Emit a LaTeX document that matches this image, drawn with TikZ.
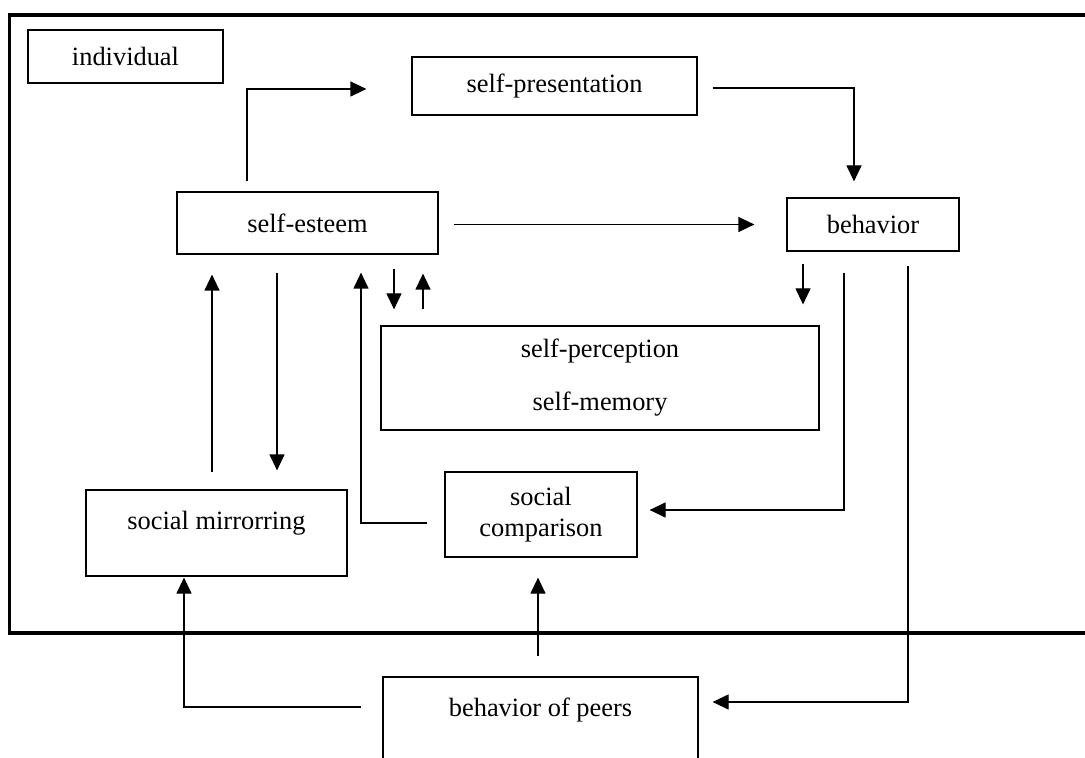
\documentclass[tikz,border=0pt]{standalone}
\usepackage{fontspec}
\setmainfont{Liberation Serif}
\usetikzlibrary{arrows.meta}
\begin{document}
\begin{tikzpicture}[x=0.5pt,y=-0.5pt,
  box/.style={draw, line width=0.6pt, inner sep=0pt, align=center,
    font=\fontsize{13.2pt}{15.5pt}\selectfont},
  arr/.style={line width=0.6pt, -{Triangle[length=8pt,width=7.5pt]}},
  frame/.style={line width=1.65pt}]
\clip (0,0) rectangle (1085,758);
\fill[white] (0,0) rectangle (1085,758);
% individual frame
\draw[frame] (1095,15) -- (9.5,15) -- (9.5,633) -- (1095,633);
% boxes
\node[box, minimum width=97.5pt, minimum height=26.5pt] (ind) at (125.5,56.5) {individual};
\node[box, minimum width=142.5pt, minimum height=29pt] (pres) at (554.5,86) {self-presentation};
\node[box, minimum width=130.5pt, minimum height=31pt] (se) at (307.5,223) {self-esteem};
\node[box, minimum width=86pt, minimum height=26.5pt] (beh) at (873,224.5) {behavior};
\node[box, minimum width=219pt, minimum height=52pt] (perc) at (600,378) {self-perception\\[11pt]self-memory};
\node[box, minimum width=130.5pt, minimum height=43pt] (sm) at (216.5,533) {\raisebox{5pt}[\height][\depth]{social mirrorring}};
\node[box, minimum width=96pt, minimum height=42.5pt] (sc) at (541,514.5) {social\\comparison};
\node[box, minimum width=157.5pt, minimum height=50pt] (bp) at (540.5,727) {\raisebox{8.5pt}[\height][\depth]{behavior of peers}};
% connectors
\draw[arr] ([shift={(-60.5,-10)}]se.north) |- ([shift={(-45,3)}]pres.west);
\draw[arr] ([shift={(15,2)}]pres.east) -| ([shift={(-19,-16)}]beh.north);
\draw[arr] ([shift={(15,1.5)}]se.east) -- ([shift={(-32,0)}]beh.west);
\draw[arr] ([shift={(86.5,14)}]se.south) -- ([shift={(-206,-16)}]perc.north);
\draw[arr] ([shift={(-177,-16)}]perc.north) -- ([shift={(115.5,19)}]se.south);
\draw[arr] ([shift={(-70,12)}]beh.south) -- ([shift={(203,-21)}]perc.north);
\draw[arr] ([shift={(-29,21)}]beh.south) |- ([shift={(12,-4.5)}]sc.east);
\draw[arr] ([shift={(35,14)}]beh.south) |- ([shift={(14,-25)}]bp.east);
\draw[arr] ([shift={(-2.5,-20)}]bp.north) -- ([shift={(-3,20)}]sc.south);
\draw[arr] ([shift={(-21,-20)}]bp.west) -| ([shift={(-32.5,1)}]sm.south);
\draw[arr] ([shift={(-17,8.5)}]sc.west) -| ([shift={(53.5,18)}]se.south);
\draw[arr] ([shift={(-4.5,-17)}]sm.north) -- ([shift={(-95.5,20)}]se.south);
\draw[arr] ([shift={(-30.5,18)}]se.south) -- ([shift={(60.5,-19)}]sm.north);
\end{tikzpicture}
\end{document}
